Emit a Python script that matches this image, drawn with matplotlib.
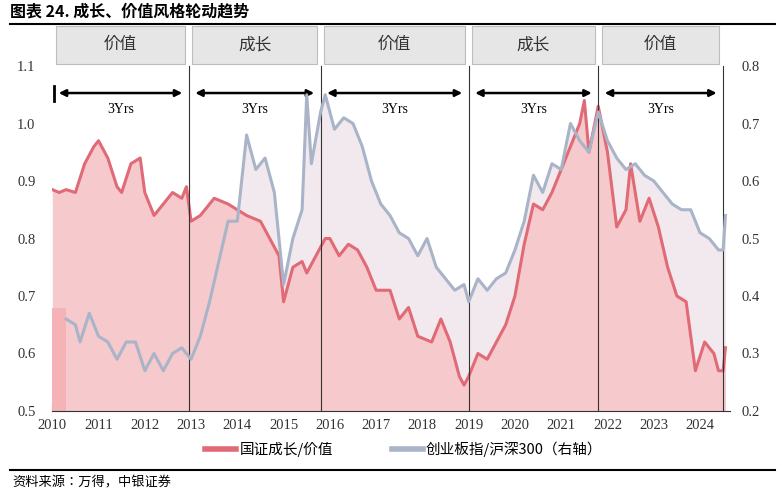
import matplotlib

matplotlib.use("Agg")
import matplotlib.pyplot as plt
from matplotlib import font_manager
from matplotlib.patches import Rectangle
import numpy as np

names = sorted({f.name for f in font_manager.fontManager.ttflist})
cjk_names = [n for n in names if "CJK" in n or "Noto" in n]
CJK = [n for n in ["Noto Sans CJK SC", "Noto Sans CJK JP", "Noto Sans CJK TC"] if n in names] + cjk_names + ["DejaVu Sans"]
SERIF = "Liberation Serif"

red_x = [2010.0, 2010.15, 2010.3, 2010.5, 2010.7, 2010.9, 2011.0, 2011.2, 2011.4, 2011.5, 2011.7, 2011.9,
         2012.0, 2012.2, 2012.4, 2012.6, 2012.8, 2012.9, 2013.0, 2013.2, 2013.5, 2013.8, 2014.0, 2014.2,
         2014.5, 2014.7, 2014.9, 2015.0, 2015.2, 2015.4, 2015.5, 2015.7, 2015.9, 2016.0, 2016.2, 2016.4,
         2016.6, 2016.8, 2017.0, 2017.3, 2017.5, 2017.7, 2017.9, 2018.2, 2018.4, 2018.6, 2018.8, 2018.9,
         2019.0, 2019.2, 2019.4, 2019.6, 2019.8, 2020.0, 2020.2, 2020.4, 2020.6, 2020.8, 2021.0, 2021.2,
         2021.4, 2021.5, 2021.6, 2021.8, 2022.0, 2022.2, 2022.4, 2022.5, 2022.7, 2022.9, 2023.1, 2023.3,
         2023.5, 2023.7, 2023.9, 2024.1, 2024.3, 2024.4, 2024.5, 2024.55]
red_y = [0.885, 0.88, 0.885, 0.88, 0.93, 0.96, 0.97, 0.94, 0.89, 0.88, 0.93, 0.94,
         0.88, 0.84, 0.86, 0.88, 0.87, 0.89, 0.83, 0.84, 0.87, 0.86, 0.85, 0.84,
         0.83, 0.80, 0.77, 0.69, 0.75, 0.76, 0.74, 0.77, 0.80, 0.80, 0.77, 0.79,
         0.78, 0.75, 0.71, 0.71, 0.66, 0.68, 0.63, 0.62, 0.66, 0.62, 0.56, 0.545,
         0.56, 0.60, 0.59, 0.62, 0.65, 0.70, 0.79, 0.86, 0.85, 0.88, 0.92, 0.96,
         1.00, 1.04, 0.95, 1.03, 0.95, 0.82, 0.85, 0.93, 0.83, 0.87, 0.82, 0.75,
         0.70, 0.69, 0.57, 0.62, 0.60, 0.57, 0.57, 0.61]

blue_x = [2010.3, 2010.5, 2010.6, 2010.8, 2011.0, 2011.2, 2011.4, 2011.6, 2011.8, 2012.0, 2012.2, 2012.4,
          2012.6, 2012.8, 2013.0, 2013.2, 2013.4, 2013.6, 2013.8, 2014.0, 2014.2, 2014.4, 2014.6, 2014.8,
          2015.0, 2015.2, 2015.4, 2015.5, 2015.6, 2015.8, 2015.9, 2016.1, 2016.3, 2016.5, 2016.7, 2016.9,
          2017.1, 2017.3, 2017.5, 2017.7, 2017.9, 2018.1, 2018.3, 2018.5, 2018.7, 2018.9, 2019.0, 2019.2,
          2019.4, 2019.6, 2019.8, 2020.0, 2020.2, 2020.4, 2020.6, 2020.8, 2021.0, 2021.2, 2021.4, 2021.6,
          2021.8, 2022.0, 2022.2, 2022.4, 2022.6, 2022.8, 2023.0, 2023.2, 2023.4, 2023.6, 2023.8, 2024.0,
          2024.2, 2024.4, 2024.5, 2024.55]
blue_y = [0.36, 0.35, 0.32, 0.37, 0.33, 0.32, 0.29, 0.32, 0.32, 0.27, 0.30, 0.27,
          0.30, 0.31, 0.29, 0.33, 0.39, 0.46, 0.53, 0.53, 0.68, 0.62, 0.64, 0.58,
          0.42, 0.50, 0.55, 0.75, 0.63, 0.72, 0.75, 0.69, 0.71, 0.70, 0.66, 0.60,
          0.56, 0.54, 0.51, 0.50, 0.47, 0.50, 0.45, 0.43, 0.41, 0.42, 0.39, 0.43,
          0.41, 0.43, 0.44, 0.48, 0.53, 0.61, 0.58, 0.63, 0.62, 0.70, 0.67, 0.65,
          0.72, 0.67, 0.64, 0.62, 0.63, 0.61, 0.60, 0.58, 0.56, 0.55, 0.55, 0.51,
          0.50, 0.48, 0.48, 0.54]

phase_edges = [2010.0, 2012.95, 2015.8, 2019.0, 2021.8, 2024.5]
phase_labels = ["价值", "成长", "价值", "成长", "价值"]
years = list(range(2010, 2025))

fig = plt.figure(figsize=(7.8, 5), dpi=100)
ax = fig.add_axes([0.067, 0.178, 0.869, 0.69])
ax2 = ax.twinx()

ax.set_xlim(2010, 2024.65)
ax.set_ylim(0.5, 1.1)
ax2.set_ylim(0.2, 0.8)

# blue series mapped onto left scale (right axis = left - 0.3)
bx = np.array(blue_x)
by_left = np.array(blue_y) + 0.3
ax.fill_between(bx, 0.5, by_left, color="#f1e9ee", lw=0, zorder=1)
ax.fill_between(red_x, 0.5, red_y, color="#f6c9cc", lw=0, zorder=2)
ax.fill_between([2010, 2010.3], 0.5, 0.68, color="#f5b3b7", lw=0, zorder=2)
ax.plot(red_x, red_y, color="#e06b77", lw=2.2, zorder=4)
ax2.plot(blue_x, blue_y, color="#a9b4c8", lw=2.2, zorder=3)

for e in phase_edges[1:]:
    ax.axvline(e, color="#333333", lw=0.8, zorder=5)

for a, b in zip(phase_edges[:-1], phase_edges[1:]):
    ax.annotate("", xy=(a + 0.08, 1.053), xytext=(b - 0.08, 1.053),
                arrowprops=dict(arrowstyle="<|-|>", color="black", lw=1.8, mutation_scale=10), zorder=6)
    ax.text((a + b) / 2, 1.024, "3Yrs", ha="center", va="center", fontsize=10, family=SERIF)
ax.plot([2010.04, 2010.04], [1.04, 1.065], color="black", lw=2)

for i, (a, b) in enumerate(zip(phase_edges[:-1], phase_edges[1:])):
    x0 = a + 0.08
    w = b - a - 0.16
    ax.add_patch(Rectangle((x0, 1.104), w, 0.066, facecolor="#e6e6e6", edgecolor="#bdbdbd",
                           lw=0.8, clip_on=False, zorder=6))
    ax.text(x0 + w / 2, 1.137, phase_labels[i], ha="center", va="center", fontsize=12,
            family=CJK, color="#333333", clip_on=False, zorder=7)

for axis in (ax, ax2):
    for s in axis.spines.values():
        s.set_visible(False)
ax.spines["bottom"].set_visible(True)
ax.spines["bottom"].set_color("#333333")

ax.set_xticks(years)
ax.set_xticklabels([str(y) for y in years], family=SERIF, fontsize=10.5)
ax.set_yticks([0.5, 0.6, 0.7, 0.8, 0.9, 1.0, 1.1])
ax.set_yticklabels(["0.5", "0.6", "0.7", "0.8", "0.9", "1.0", "1.1"], family=SERIF, fontsize=10.5)
ax2.set_yticks([0.2, 0.3, 0.4, 0.5, 0.6, 0.7, 0.8])
ax2.set_yticklabels(["0.2", "0.3", "0.4", "0.5", "0.6", "0.7", "0.8"], family=SERIF, fontsize=10.5)
ax.tick_params(axis="y", length=0, pad=12, colors="#333333")
ax2.tick_params(axis="y", length=0, pad=8, colors="#333333")
ax.tick_params(axis="x", direction="in", length=4, pad=6, colors="#333333")

# legend, title, source in pixel coordinates
lx = fig.add_axes([0, 0, 1, 1], facecolor="none")
lx.set_axis_off()
lx.set_xlim(0, 780)
lx.set_ylim(500, 0)
lx.plot([205, 236], [449, 449], color="#e06b77", lw=4)
lx.text(240, 449, "国证成长/价值", family=CJK, fontsize=10.5, va="center")
lx.plot([392, 423], [449, 449], color="#a9b4c8", lw=4)
lx.text(426, 449, "创业板指/沪深300（右轴）", family=CJK, fontsize=10.5, va="center")

lx.text(10, 12, "图表 24. 成长、价值风格轮动趋势", family=CJK, fontsize=11.5, fontweight="bold", va="center")
lx.plot([10, 775], [24, 24], color="black", lw=1.5)
lx.plot([10, 775], [470, 470], color="black", lw=1.5)
lx.text(12, 483, "资料来源：万得，中银证券", family=CJK, fontsize=9.5, style="italic", va="center")

fig.savefig("out.png", dpi=100)
